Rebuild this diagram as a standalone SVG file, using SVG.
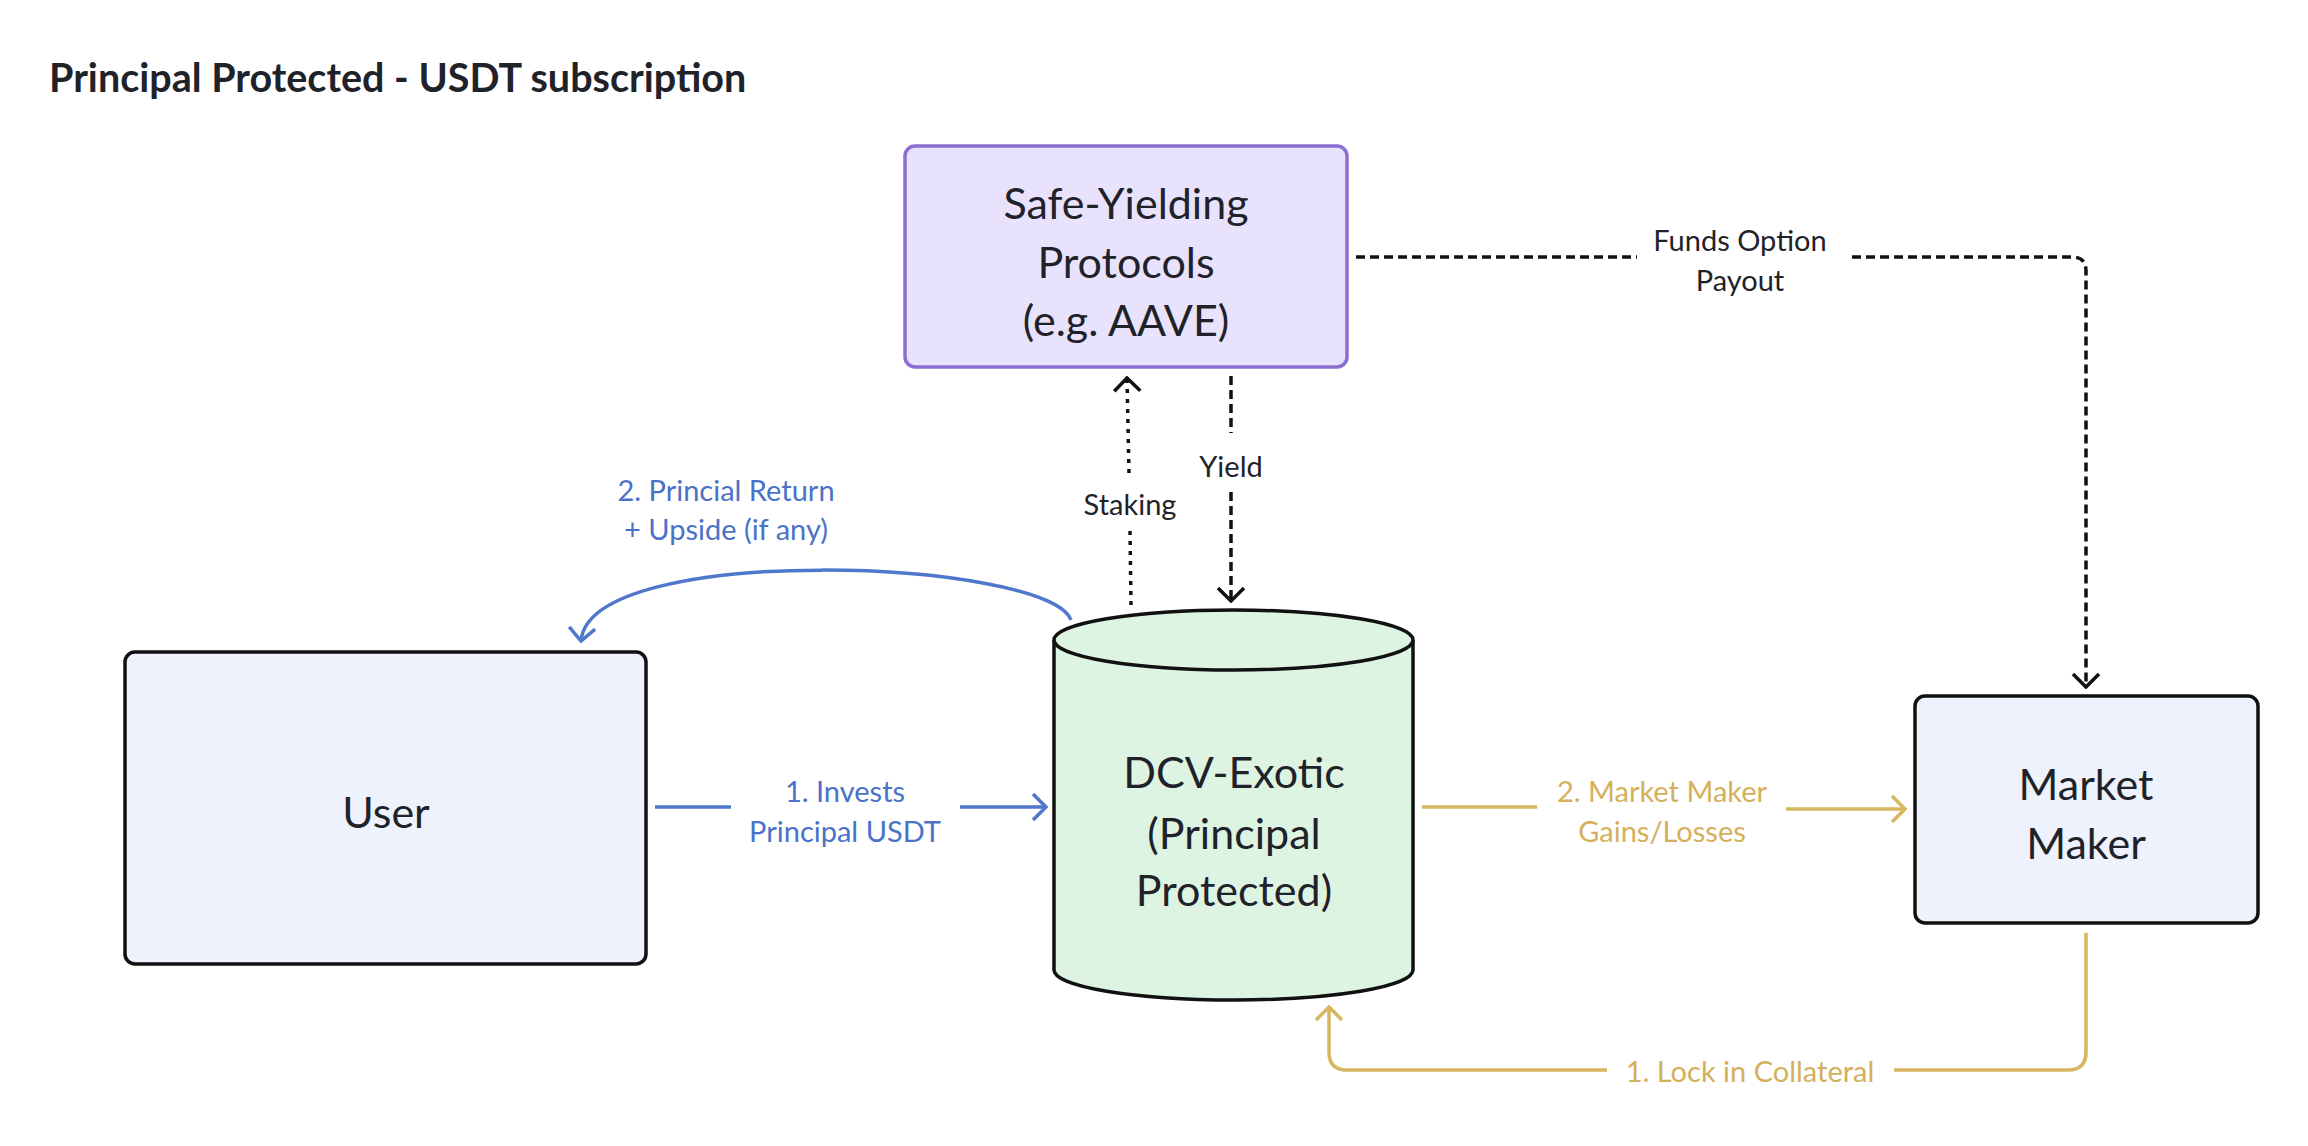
<svg xmlns="http://www.w3.org/2000/svg" width="2308" height="1146" viewBox="0 0 2308 1146">
<style>
.t{font-family:Lato,"Liberation Sans",sans-serif;fill:#1f2329;dominant-baseline:central;text-anchor:middle}
.title{font-size:39.5px;font-weight:bold;text-anchor:start}
.nt{font-size:43px}
.lb{font-size:29px}
.blue{fill:#4a72c8}
.gold{fill:#d4b05a}
.box{stroke:#111;stroke-width:3.5}
.c{fill:none;stroke-width:3.5}
.k{stroke:#111}
.b{stroke:#4f78cc}
.g{stroke:#d8b560}
.dash{stroke-dasharray:9 5}
.dot{stroke-dasharray:4 6}
</style>
<defs>
<marker id="mk" viewBox="-16 -16 18 32" refX="0" refY="0" markerWidth="18" markerHeight="32" markerUnits="userSpaceOnUse" orient="auto"><path d="M-13,-13 L0,0 L-13,13" fill="none" stroke="#111" stroke-width="3.5"/></marker>
<marker id="mb" viewBox="-16 -16 18 32" refX="0" refY="0" markerWidth="18" markerHeight="32" markerUnits="userSpaceOnUse" orient="auto"><path d="M-13,-13 L0,0 L-13,13" fill="none" stroke="#4f78cc" stroke-width="3.5"/></marker>
<marker id="mg" viewBox="-16 -16 18 32" refX="0" refY="0" markerWidth="18" markerHeight="32" markerUnits="userSpaceOnUse" orient="auto"><path d="M-13,-13 L0,0 L-13,13" fill="none" stroke="#d8b560" stroke-width="3.5"/></marker>
</defs>
<rect width="2308" height="1146" fill="#ffffff"/>
<text class="t title" x="49" y="76">Principal Protected - USDT subscription</text>

<g id="connectors">
<line class="c b" x1="655" y1="807" x2="731" y2="807"/>
<line class="c b" x1="960" y1="807" x2="1046" y2="807" marker-end="url(#mb)"/>
<text class="t lb blue" x="845" y="790">1. Invests</text>
<text class="t lb blue" x="845" y="830">Principal USDT</text>

<path class="c b" d="M1071,620 C1050,560 590,540 581,641" marker-end="url(#mb)"/>
<text class="t lb blue" x="726" y="489">2. Princial Return</text>
<text class="t lb blue" x="726" y="528">+ Upside (if any)</text>

<line class="c g" x1="1422" y1="807" x2="1537" y2="807"/>
<line class="c g" x1="1786" y1="809" x2="1905" y2="809" marker-end="url(#mg)"/>
<text class="t lb gold" x="1662" y="790">2. Market Maker</text>
<text class="t lb gold" x="1662" y="830">Gains/Losses</text>

<path class="c g" d="M2086,933 V1052 Q2086,1070 2068,1070 H1894"/>
<path class="c g" d="M1607,1070 H1347 Q1329,1070 1329,1052 V1007" marker-end="url(#mg)"/>
<text class="t lb gold" x="1750" y="1070">1. Lock in Collateral</text>

<path class="c k dash" d="M1356,257 H1637"/>
<path class="c k dash" d="M1852,257 H2072 Q2086,257 2086,271 V687" marker-end="url(#mk)"/>
<text class="t lb" x="1740" y="239">Funds Option</text>
<text class="t lb" x="1740" y="279">Payout</text>

<line class="c k dot" x1="1131" y1="605" x2="1130" y2="530"/>
<line class="c k dot" x1="1129" y1="473" x2="1127" y2="378" marker-end="url(#mk)"/>
<text class="t lb" x="1130" y="503">Staking</text>

<line class="c k dash" x1="1231" y1="376" x2="1231" y2="433"/>
<line class="c k dash" x1="1231" y1="492" x2="1231" y2="601" marker-end="url(#mk)"/>
<text class="t lb" x="1231" y="465">Yield</text>
</g>

<g id="safe-yielding">
<rect x="905" y="146" width="442" height="221" rx="10" fill="#e9e2fd" stroke="#8a6fd0" stroke-width="3.5"/>
<text class="t nt" x="1126" y="202">Safe-Yielding</text>
<text class="t nt" x="1126" y="261">Protocols</text>
<text class="t nt" x="1126" y="319">(e.g. AAVE)</text>
</g>

<g id="user">
<rect class="box" x="125" y="652" width="521" height="312" rx="10" fill="#eef2fc"/>
<text class="t nt" x="386" y="811">User</text>
</g>

<g id="dcv-exotic">
<path class="box" d="M1054,640 V970 A179.5,30 0 0 0 1413,970 V640" fill="#ddf4e3"/>
<ellipse class="box" cx="1233.5" cy="640" rx="179.5" ry="30" fill="#ddf4e3"/>
<text class="t nt" x="1234" y="771">DCV-Exotic</text>
<text class="t nt" x="1234" y="832">(Principal</text>
<text class="t nt" x="1234" y="889">Protected)</text>
</g>

<g id="market-maker">
<rect class="box" x="1915" y="696" width="343" height="227" rx="10" fill="#eef2fc"/>
<text class="t nt" x="2086" y="783">Market</text>
<text class="t nt" x="2086" y="842">Maker</text>
</g>
</svg>
